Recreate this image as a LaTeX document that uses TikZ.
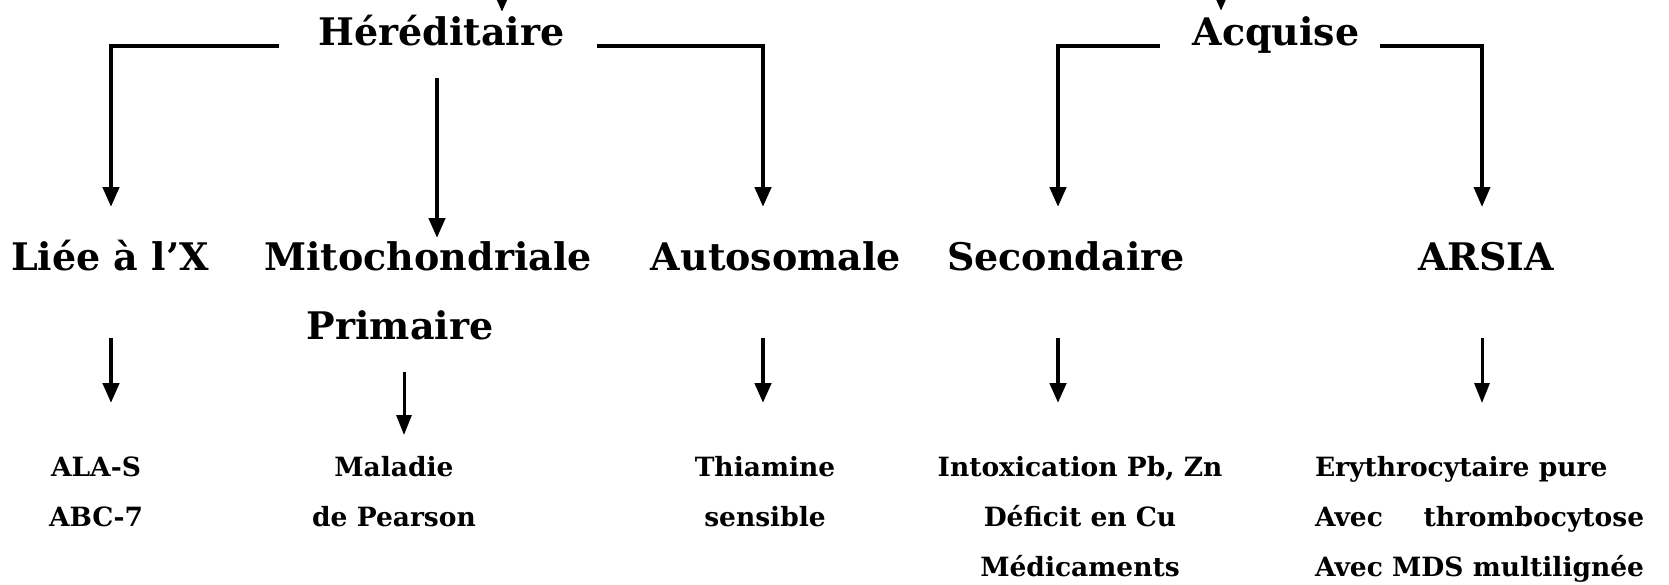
\documentclass[tikz,border=0pt]{standalone}
\usepackage{fontspec}
\setmainfont{DejaVu Serif}
\usetikzlibrary{arrows.meta}
\newlength\mdsw
\newcommand\leaffont{\fontsize{26.5}{50}\selectfont\bfseries}
\begin{document}
\settowidth{\mdsw}{\leaffont Avec MDS multilignée}%
\begin{tikzpicture}[x=1pt,y=-1pt,
  head/.style={inner sep=0pt,outer sep=0pt,anchor=base,
    font=\fontsize{38}{46}\selectfont\bfseries},
  leaf/.style={inner sep=0pt,outer sep=0pt,anchor=base,align=center,
    font=\leaffont},
  link/.style={line width=4.5pt,-{Triangle[width=16pt,length=20pt]}},
  linkthin/.style={line width=3pt,-{Triangle[width=15pt,length=20pt]}}]
\useasboundingbox (0,0) rectangle (1669,584);
\fill[white] (0,0) rectangle (1669,584);
\clip (0,0) rectangle (1669,584);

% main categories
\node[head] (hered) at (441.5,45) {Héréditaire};
\node[head] (acq)   at (1276,45)  {Acquise};

% sub-categories
\node[head] (liee)  at (110,270)  {Liée à l’X};
\node[head] (mito)  at (428,270)  {Mitochondriale};
\node[head] (prim)  at (400,339)  {Primaire};
\node[head] (auto)  at (776,270)  {Autosomale};
\node[head] (sec)   at (1066,270) {Secondaire};
\node[head] (arsia) at (1486,270) {ARSIA};

% examples (the base anchor sits on the last line)
\node[leaf] (ala)   at (96,526)   {ALA-S\\ABC-7};
\node[leaf] (mal)   at (394,526)  {Maladie\\de Pearson};
\node[leaf] (thia)  at (765,526)  {Thiamine\\sensible};
\node[leaf] (intox) at (1080,576) {Intoxication Pb, Zn\\Déficit en Cu\\Médicaments};
\node[leaf,anchor=base west,align=left] (ery) at (1315,576)
  {Erythrocytaire pure\\\hbox to\mdsw{Avec\hfill thrombocytose}\\Avec MDS multilignée};

% arrow columns and levels
\coordinate (cL) at ([xshift=1pt]liee.north);
\coordinate (cM) at ([xshift=9pt]mito.north);
\coordinate (cP) at ([xshift=4pt]prim.north);
\coordinate (cA) at ([xshift=-13pt]auto.north);
\coordinate (cS) at ([xshift=-8pt]sec.north);
\coordinate (cR) at ([xshift=-4pt]arsia.north);
\coordinate (hIn)  at (502,-40);
\coordinate (hTip) at (502,12);
\coordinate (aIn)  at (1221,-40);
\coordinate (aTip) at (1221,11);
\coordinate (tipB)   at (0,207);
\coordinate (midTop) at (0,78);
\coordinate (midTip) at (0,238);
\coordinate (shTop)  at (0,338);
\coordinate (shTip)  at (0,403);
\coordinate (prTop)  at (0,372);
\coordinate (prTip)  at (0,435);

% incoming arrows from above
\draw[link] (hIn) -- (hTip);
\draw[link] (aIn) -- (aTip);

% branches
\draw[link] ([xshift=-39pt,yshift=-1pt]hered.base west) -| (cL |- tipB);
\draw[link] (cM |- midTop) -- (cM |- midTip);
\draw[link] ([xshift=32pt,yshift=-1pt]hered.base east) -| (cA |- tipB);
\draw[link] ([xshift=-33pt,yshift=-1pt]acq.base west) -| (cS |- tipB);
\draw[link,line width=3.5pt] ([xshift=21pt,yshift=-1pt]acq.base east) -| (cR |- tipB);

% short arrows to the examples
\draw[link] (cL |- shTop) -- (cL |- shTip);
\draw[linkthin] (cP |- prTop) -- (cP |- prTip);
\draw[link] (cA |- shTop) -- (cA |- shTip);
\draw[link] (cS |- shTop) -- (cS |- shTip);
\draw[linkthin] (cR |- shTop) -- (cR |- shTip);
\end{tikzpicture}
\end{document}
